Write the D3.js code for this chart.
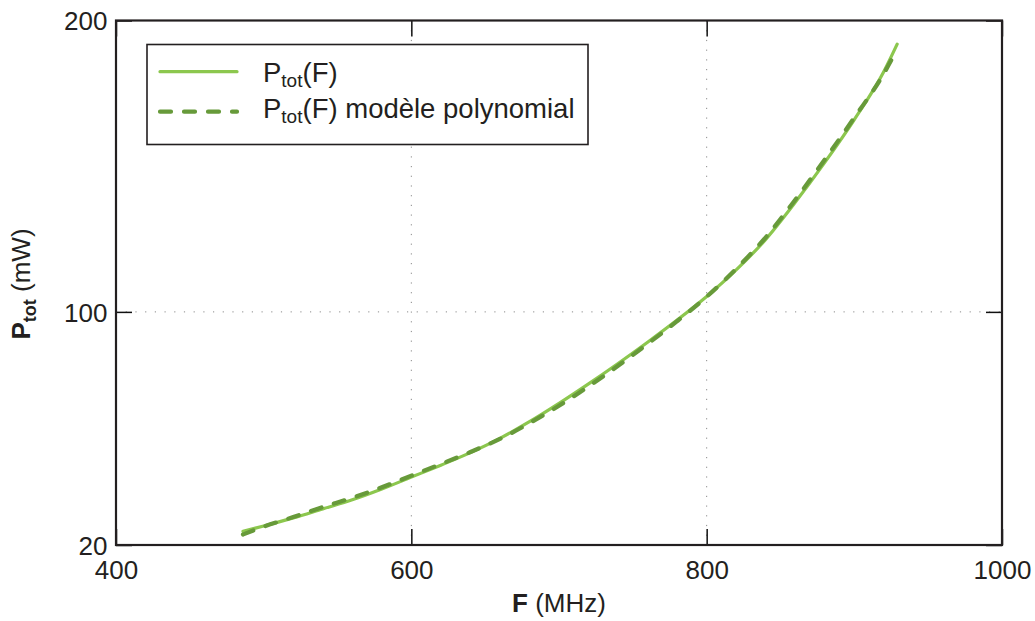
<!DOCTYPE html>
<html>
<head>
<meta charset="utf-8">
<script src="https://cdn.jsdelivr.net/npm/d3@7"></script>
<style>
  html, body { margin: 0; padding: 0; background: #fff; }
  svg { display: block; font-family: "Liberation Sans", Arial, Helvetica, sans-serif; }
</style>
</head>
<body>
<svg id="chart" width="1035" height="621"></svg>
<script>
// ---- data ----
const freq = [486, 500, 520, 540, 560, 580, 600, 620, 640, 660, 680, 700, 720, 740, 760, 780, 800, 820, 840, 860, 880, 900, 920, 929];
const pMeasured = [24.7, 26.5, 29.3, 32.4, 35.5, 39.2, 43.3, 47.4, 51.7, 56.6, 62.3, 68.6, 75.3, 82.3, 89.6, 97.2, 105.3, 114.4, 124.9, 137.6, 151.3, 166.0, 182.5, 191.9];
const pModel = [23.6, 26.3, 29.6, 33.0, 36.2, 39.8, 43.8, 47.8, 51.9, 56.4, 61.8, 67.8, 74.4, 81.5, 89.0, 96.8, 105.2, 114.8, 125.6, 138.5, 152.3, 166.7, 181.8, 190.2];
const xTicks = [400, 600, 800, 1000];
const yTicks = [20, 100, 200];
const seriesNames = ["P(F)", "P(F) modèle polynomial"];

// ---- layout ----
const svg = d3.select("#chart");
const L = 116, R = 1002, T = 20.5, B = 545;
const x = d3.scaleLinear().domain([400, 1000]).range([L, R]);
const y = d3.scaleLinear().domain([20, 200]).range([B, T]);
const solidColor = "#8cc74e", dashColor = "#679a3a";
const FS = 26;

// grid (dotted)
const grid = svg.append("g");
grid.selectAll("line.gx").data(xTicks).join("line")
  .attr("x1", d => x(d)).attr("x2", d => x(d)).attr("y1", T).attr("y2", B)
  .attr("stroke", "#8a8a8a").attr("stroke-width", 1).attr("stroke-dasharray", "1.2,8.5");
grid.selectAll("line.gy").data(yTicks).join("line")
  .attr("y1", d => y(d)).attr("y2", d => y(d)).attr("x1", L).attr("x2", R)
  .attr("stroke", "#8a8a8a").attr("stroke-width", 1).attr("stroke-dasharray", "1.2,8.5");

// axes with inward ticks on all four sides
const tick = 16;
const fmt = d3.format("d");
const axB = svg.append("g").attr("transform", `translate(0,${B})`)
  .call(d3.axisBottom(x).tickValues(xTicks).tickFormat(fmt).tickSizeInner(-tick).tickSizeOuter(0));
const axT = svg.append("g").attr("transform", `translate(0,${T})`)
  .call(d3.axisTop(x).tickValues(xTicks).tickSizeInner(-tick).tickSizeOuter(0).tickFormat(""));
const axL = svg.append("g").attr("transform", `translate(${L},0)`)
  .call(d3.axisLeft(y).tickValues(yTicks).tickFormat(fmt).tickSizeInner(-tick).tickSizeOuter(0));
const axR = svg.append("g").attr("transform", `translate(${R},0)`)
  .call(d3.axisRight(y).tickValues(yTicks).tickSizeInner(-tick).tickSizeOuter(0).tickFormat(""));
[axB, axT, axL, axR].forEach(a => {
  a.select(".domain").remove();
  a.selectAll(".tick line").attr("stroke", "#111").attr("stroke-width", 1.5);
  a.selectAll(".tick text").attr("fill", "#231f20").style("font-size", FS + "px")
    .style("font-family", '"Liberation Sans", Arial, sans-serif');
});
axB.selectAll(".tick text").attr("y", 34).attr("dy", 0);
axL.selectAll(".tick text").attr("x", -8.5).attr("dy", "0.36em");

// curves
const line = d3.line().x(d => x(d[0])).y(d => y(d[1])).curve(d3.curveMonotoneX);
svg.append("path").datum(d3.zip(freq, pMeasured)).attr("d", line)
  .attr("fill", "none").attr("stroke", solidColor).attr("stroke-width", 3.2).attr("stroke-linecap", "round");
svg.append("path").datum(d3.zip(freq, pModel)).attr("d", line)
  .attr("fill", "none").attr("stroke", dashColor).attr("stroke-width", 4.2)
  .attr("stroke-dasharray", "11,13").attr("stroke-linecap", "round");

// frame
svg.append("rect").attr("x", L).attr("y", T).attr("width", R - L).attr("height", B - T)
  .attr("fill", "none").attr("stroke", "#231f20").attr("stroke-width", 2.2);

// legend
const lg = svg.append("g");
lg.append("rect").attr("x", 147).attr("y", 44.5).attr("width", 441).attr("height", 100)
  .attr("fill", "#fff").attr("stroke", "#231f20").attr("stroke-width", 1.6);
const legendRows = [
  { name: seriesNames[0], color: solidColor, dash: null, w: 3.2, ly: 71.7, ty: 81.7 },
  { name: seriesNames[1], color: dashColor, dash: "11,13", w: 4.2, ly: 111.7, ty: 117.7 }
];
legendRows.forEach((r, i) => {
  lg.append("line").attr("x1", 160).attr("x2", 237).attr("y1", r.ly).attr("y2", r.ly)
    .attr("stroke", r.color).attr("stroke-width", r.w).attr("stroke-linecap", "round")
    .attr("stroke-dasharray", r.dash);
  const t = lg.append("text").attr("x", 263).attr("y", r.ty).attr("fill", "#231f20").style("font-size", "27.5px");
  t.append("tspan").text("P");
  t.append("tspan").text("tot").style("font-size", "19px").attr("dy", 5.5);
  t.append("tspan").text(i === 0 ? "(F)" : "(F) modèle polynomial").attr("dy", -5.5);
});

// axis titles
const xt = svg.append("text").attr("x", 559).attr("y", 612).attr("text-anchor", "middle")
  .attr("fill", "#231f20").style("font-size", FS + "px");
xt.append("tspan").text("F").style("font-weight", "bold");
xt.append("tspan").text(" (MHz)");

const yt = svg.append("text").attr("transform", "translate(30,284) rotate(-90)").attr("text-anchor", "middle")
  .attr("fill", "#231f20").style("font-size", FS + "px");
yt.append("tspan").text("P").style("font-weight", "bold");
yt.append("tspan").text("tot").style("font-weight", "bold").style("font-size", "18px").attr("dy", 5.5);
yt.append("tspan").text(" (mW)").attr("dy", -5.5);
</script>
</body>
</html>
